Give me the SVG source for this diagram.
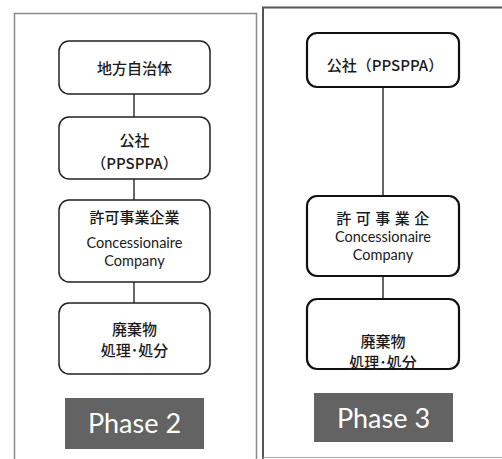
<svg xmlns="http://www.w3.org/2000/svg" width="502" height="459" viewBox="0 0 502 459">
<style>
.bl{fill:#fff;stroke:#222;stroke-width:1.5}
.br{fill:#fff;stroke:#111;stroke-width:2.2}
.t{font-family:"Lato","Noto Sans CJK JP",sans-serif;font-size:14.5px;fill:#1a1a1a;text-anchor:middle}
.j{font-family:"Noto Sans CJK JP",sans-serif;font-size:15px;font-weight:500;fill:#1a1a1a;text-anchor:middle}
.ph{fill:#636363}
.pt{font-family:"Lato","Open Sans",sans-serif;font-size:27px;fill:#fff;text-anchor:middle}
.c{stroke:#666;stroke-width:2;fill:none}
</style>
<rect width="502" height="459" fill="#fff"/>
<g id="panels">
<path d="M14.5,470 V13.5 H256.5 V470" fill="none" stroke="#8a8a8a" stroke-width="1.5"/>
<path d="M263,470 V7.5 H510" fill="none" stroke="#555" stroke-width="2"/>
<path d="M263,457.5 H510" fill="none" stroke="#aaa" stroke-width="1.2"/>
</g>
<g id="connectors">
<line class="c" x1="134" y1="94" x2="134" y2="117"/>
<line class="c" x1="134" y1="179" x2="134" y2="200"/>
<line class="c" x1="134" y1="282" x2="134" y2="303"/>
<line class="c" x1="383" y1="87" x2="383" y2="196"/>
<line class="c" x1="383" y1="276" x2="383" y2="299"/>
</g>
<g id="n1"><rect class="bl" x="59" y="41" width="151" height="53" rx="10"/><text class="j" x="134.5" y="74">地方自治体</text></g>
<g id="n2"><rect class="bl" x="59" y="117" width="151" height="62" rx="10"/><text class="j" x="134.5" y="146">公社</text><text class="j" x="134.5" y="169">（PPSPPA）</text></g>
<g id="n3"><rect class="bl" x="59" y="200" width="151" height="82" rx="10"/><text class="j" x="134.5" y="223">許可事業企業</text><text class="t" x="134.5" y="248">Concessionaire</text><text class="t" x="134.5" y="266">Company</text></g>
<g id="n4"><rect class="bl" x="59" y="303" width="151" height="71" rx="10"/><text class="j" x="134.5" y="335">廃棄物</text><text class="j" x="134.5" y="356">処理･処分</text></g>
<g id="p2"><rect class="ph" x="65" y="398" width="139" height="51"/><text class="pt" x="134.5" y="433">Phase 2</text></g>
<g id="m1"><rect class="br" x="307" y="33" width="152" height="54" rx="10"/><text class="j" x="385" y="71">公社（PPSPPA）</text></g>
<g id="m2"><rect class="br" x="307" y="196" width="152" height="80" rx="10"/><text class="j" x="385" y="224" style="letter-spacing:4.5px">許可事業企</text><text class="t" x="383" y="242">Concessionaire</text><text class="t" x="383" y="260">Company</text></g>
<g id="m3"><rect class="br" x="307" y="299" width="152" height="70" rx="10"/><text class="j" x="383" y="347">廃棄物</text><text class="j" x="383" y="368">処理･処分</text></g>
<g id="p3"><rect class="ph" x="314" y="393" width="139" height="49"/><text class="pt" x="383.5" y="428">Phase 3</text></g>
</svg>
